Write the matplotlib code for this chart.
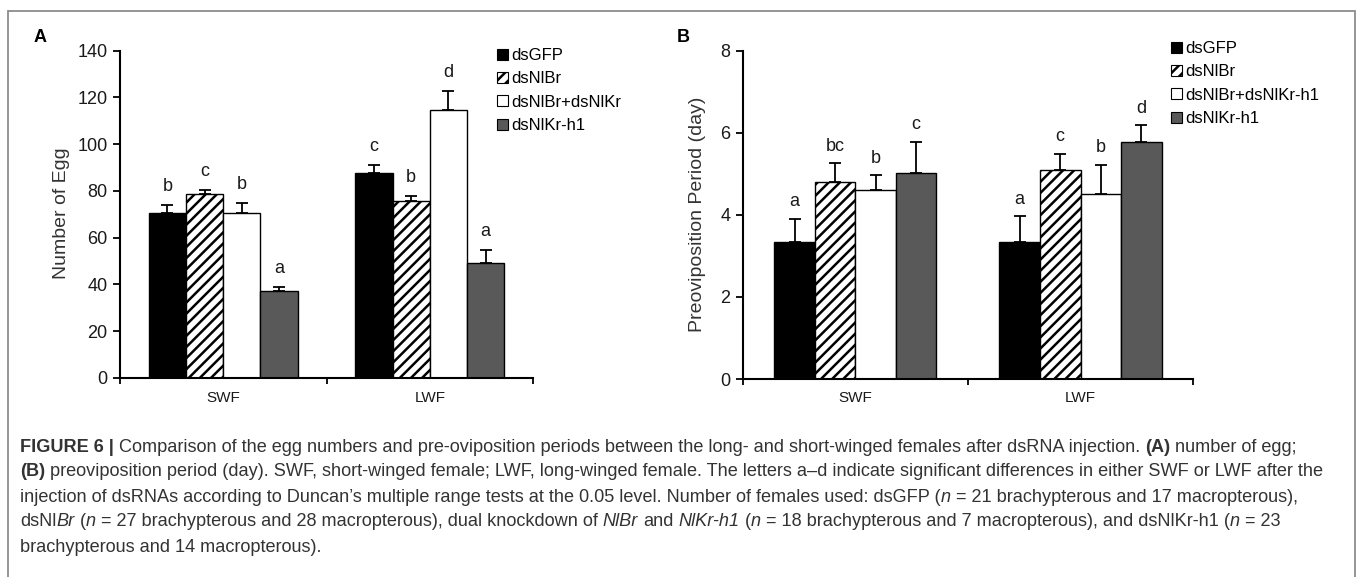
import matplotlib
matplotlib.use("Agg")
import matplotlib.pyplot as plt
from matplotlib.patches import Patch, Rectangle
import numpy as np

plt.rcParams['font.family'] = ['Liberation Sans', 'DejaVu Sans']

groups = ['SWF', 'LWF']
labels_a = ['dsGFP', 'dsNlBr', 'dsNlBr+dsNlKr', 'dsNlKr-h1']
labels_b = ['dsGFP', 'dsNlBr', 'dsNlBr+dsNlKr-h1', 'dsNlKr-h1']

# panel A: number of eggs (SWF, LWF)
egg_gfp = [70.5, 87.5]
egg_br = [78.5, 75.5]
egg_brkr = [70.5, 114.5]
egg_kr = [37, 49]
egg_gfp_se = [3.5, 3.6]
egg_br_se = [1.8, 2.5]
egg_brkr_se = [4.5, 8.2]
egg_kr_se = [1.8, 5.8]
egg_letters = [['b', 'c'], ['c', 'b'], ['b', 'd'], ['a', 'a']]

# panel B: preoviposition period in days (SWF, LWF)
pre_gfp = [3.34, 3.34]
pre_br = [4.80, 5.09]
pre_brkr = [4.61, 4.52]
pre_kr = [5.03, 5.78]
pre_gfp_se = [0.57, 0.63]
pre_br_se = [0.46, 0.40]
pre_brkr_se = [0.36, 0.70]
pre_kr_se = [0.75, 0.40]
pre_letters = [['a', 'a'], ['bc', 'c'], ['b', 'b'], ['c', 'd']]

faces = ['black', 'white', 'white', '#595959']
hatches = [None, '///', None, None]
plt.rcParams['hatch.linewidth'] = 1.8

W, H = 1360, 577
fig = plt.figure(figsize=(W / 100, H / 100), dpi=100)


def px(x, y):
    return x / W, 1 - y / H


def panel(rect, means, errs, letters, ymax, ystep, labels, leg_xy, ylabel, ylab_xy, tag, tag_xy, letter_off):
    ax = fig.add_axes(rect)
    x = np.arange(len(groups))
    w = 0.18
    for i in range(4):
        pos = x + (i - 1.5) * w
        ax.bar(pos, means[i], w, color=faces[i], edgecolor='black', linewidth=1.0,
               hatch=hatches[i], label=labels[i], zorder=2)
        ax.errorbar(pos, means[i], yerr=[np.zeros(len(groups)), errs[i]], fmt='none',
                    ecolor='black', elinewidth=1.3, capsize=4, capthick=1.3, zorder=3)
        for j in range(len(groups)):
            ax.annotate(letters[i][j], (pos[j], means[i][j] + errs[i][j]), xytext=(0, letter_off),
                        textcoords='offset points', ha='center', va='baseline', fontsize=13, color='#1a1a1a')
    ax.set_xlim(-0.5, len(groups) - 0.5)
    ax.set_ylim(0, ymax)
    ax.set_yticks(np.arange(0, ymax + 0.1, ystep))
    ax.set_xticks([-0.5, 0.5, 1.5])
    ax.set_xticklabels([])
    ax.set_xticks(x, minor=True)
    ax.set_xticklabels(groups, minor=True)
    ax.tick_params(axis='x', which='major', direction='out', length=4, width=1.3)
    ax.tick_params(axis='x', which='minor', length=0, pad=9, labelsize=11, labelcolor='#1a1a1a')
    ax.tick_params(axis='y', direction='out', length=5, width=1.3, labelsize=13, pad=4, labelcolor='#1a1a1a')
    for s in ['top', 'right']:
        ax.spines[s].set_visible(False)
    for s in ['left', 'bottom']:
        ax.spines[s].set_linewidth(1.5)
    handles = [Patch(facecolor=faces[i], edgecolor='black', hatch=hatches[i], linewidth=0.8) for i in range(4)]
    lx, ly = px(*leg_xy)
    fig.legend(handles, labels, loc='upper left', bbox_to_anchor=(lx, ly), frameon=False,
               fontsize=12, handlelength=0.65, handleheight=0.65, handletextpad=0.2,
               labelspacing=0.5, borderaxespad=0, borderpad=0)
    yx, yy = px(*ylab_xy)
    fig.text(yx, yy, ylabel, rotation=90, ha='center', va='center', fontsize=14, color='#333333')
    tx, ty = px(*tag_xy)
    fig.text(tx, ty, tag, ha='center', va='center', fontsize=13, fontweight='bold')
    return ax


panel([120 / W, 1 - 378 / H, 413 / W, 327.3 / H],
      [egg_gfp, egg_br, egg_brkr, egg_kr],
      [egg_gfp_se, egg_br_se, egg_brkr_se, egg_kr_se],
      egg_letters, 140, 20, labels_a, (497, 48), 'Number of Egg', (62, 213), 'A', (40, 38), 10)

panel([743 / W, 1 - 379 / H, 450 / W, 328.3 / H],
      [pre_gfp, pre_br, pre_brkr, pre_kr],
      [pre_gfp_se, pre_br_se, pre_brkr_se, pre_kr_se],
      pre_letters, 8, 2, labels_b, (1171, 41), 'Preoviposition Period (day)', (698, 214), 'B', (683, 38), 9)

# outer frame
fig.patches.append(Rectangle((8 / W, -0.02), 1347 / W, 1.02 - 10.5 / H, transform=fig.transFigure,
                             fill=False, edgecolor='#8c8c8c', linewidth=1.3))

# caption with mixed styles
caption = [
    [("FIGURE 6 |", 'b'), (" Comparison of the egg numbers and pre-oviposition periods between the long- and short-winged females after dsRNA injection. ", 'n'),
     ("(A)", 'b'), (" number of egg;", 'n')],
    [("(B)", 'b'), (" preoviposition period (day). SWF, short-winged female; LWF, long-winged female. The letters a\u2013d indicate significant differences in either SWF or LWF after the", 'n')],
    [("injection of dsRNAs according to Duncan\u2019s multiple range tests at the 0.05 level. Number of females used: dsGFP (", 'n'), ("n", 'i'),
     (" = 21 brachypterous and 17 macropterous),", 'n')],
    [("dsNl", 'n'), ("Br", 'i'), (" (", 'n'), ("n", 'i'), (" = 27 brachypterous and 28 macropterous), dual knockdown of ", 'n'),
     ("NlBr", 'i'), (" and ", 'n'), ("NlKr-h1", 'i'), (" (", 'n'), ("n", 'i'),
     (" = 18 brachypterous and 7 macropterous), and dsNlKr-h1 (", 'n'), ("n", 'i'), (" = 23", 'n')],
    [("brachypterous and 14 macropterous).", 'n')],
]
cap_y = [447, 472, 497, 522, 547]
cap_size = 13.1
styles = {'n': dict(), 'b': dict(fontweight='bold'), 'i': dict(fontstyle='italic')}
renderer = fig.canvas.get_renderer()


def width(s, kw):
    t1 = fig.text(0, 0, 'x' + s + 'x', fontsize=cap_size, **kw)
    t2 = fig.text(0, 0, 'xx', fontsize=cap_size, **kw)
    w = t1.get_window_extent(renderer).width - t2.get_window_extent(renderer).width
    t1.remove()
    t2.remove()
    return w / W


for line, y in zip(caption, cap_y):
    cx = 20 / W
    for s, st in line:
        kw = styles[st]
        core = s.strip(' ')
        lead = len(s) - len(s.lstrip(' '))
        trail = len(s) - len(s.rstrip(' '))
        if lead:
            cx += width(' ' * lead, kw)
        fig.text(cx, 1 - y / H, core, ha='left', va='center', fontsize=cap_size, color='#333333', **kw)
        cx += width(core, kw)
        if trail:
            cx += width(' ' * trail, kw)

fig.savefig('out.png', dpi=100)
